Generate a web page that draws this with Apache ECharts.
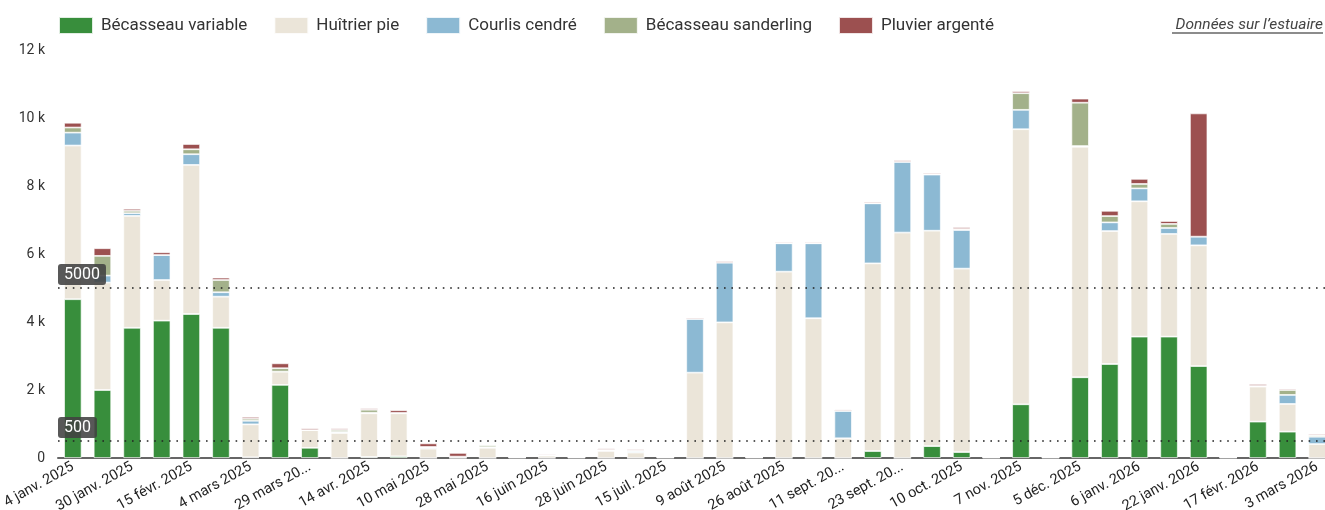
<!DOCTYPE html>
<html>
<head>
<meta charset="utf-8">
<script src="https://cdn.jsdelivr.net/npm/echarts@6/dist/echarts.min.js"></script>
<style>
html,body{margin:0;padding:0;background:#fff;}
#chart{width:1325px;height:510px;}
</style>
</head>
<body>
<div id="chart"></div>
<script>
// Categories (survey dates)
var categories = [
  '4 janv. 2025','17 janv. 2025','30 janv. 2025','6 févr. 2025','15 févr. 2025','22 févr. 2025',
  '4 mars 2025','18 mars 2025','29 mars 2025','5 avr. 2025','14 avr. 2025','26 avr. 2025',
  '10 mai 2025','18 mai 2025','28 mai 2025','5 juin 2025','16 juin 2025','21 juin 2025',
  '28 juin 2025','8 juil. 2025','15 juil. 2025','28 juil. 2025','9 août 2025','18 août 2025',
  '26 août 2025','3 sept. 2025','11 sept. 2025','17 sept. 2025','23 sept. 2025','1 oct. 2025',
  '10 oct. 2025','24 oct. 2025','7 nov. 2025','21 nov. 2025','5 déc. 2025','19 déc. 2025',
  '6 janv. 2026','14 janv. 2026','22 janv. 2026','3 févr. 2026','17 févr. 2026','24 févr. 2026',
  '3 mars 2026'
];
// Tick labels shown (every other category)
var tickLabels = [
  '4 janv. 2025','30 janv. 2025','15 févr. 2025','4 mars 2025','29 mars 20...','14 avr. 2025',
  '10 mai 2025','28 mai 2025','16 juin 2025','28 juin 2025','15 juil. 2025','9 août 2025',
  '26 août 2025','11 sept. 20...','23 sept. 20...','10 oct. 2025','7 nov. 2025','5 déc. 2025',
  '6 janv. 2026','22 janv. 2026','17 févr. 2026','3 mars 2026'
];
var seriesNames = ['Bécasseau variable','Huîtrier pie','Courlis cendré','Bécasseau sanderling','Pluvier argenté'];
var becasseauVariable = [4670,2000,3830,4040,4235,3830,20,2150,300,0,30,50,0,0,0,10,0,10,0,0,10,0,0,10,0,0,0,205,0,350,175,10,1580,10,2375,2765,3570,3570,2705,10,1070,775,0];
var huitrierPie = [4520,3160,3290,1195,4385,915,970,390,520,735,1285,1265,275,40,300,15,70,15,210,160,15,2510,3990,15,5480,4110,580,5520,6630,6335,5395,15,8090,15,6780,3910,3980,3020,3550,15,1030,815,410];
var courlisCendre = [380,205,80,735,315,130,105,0,0,30,15,10,30,0,20,0,0,0,10,40,0,1580,1755,0,835,2205,805,1765,2080,1650,1135,0,570,0,20,255,380,175,255,0,20,265,215];
var becasseauSanderling = [150,580,70,0,145,360,60,100,0,60,90,0,20,0,60,0,10,0,20,20,0,0,0,0,0,0,0,0,0,20,30,0,490,0,1275,185,130,120,0,0,0,145,40];
var pluvierArgente = [140,225,60,80,155,70,55,145,50,45,40,80,105,110,20,5,30,5,40,35,5,40,40,5,35,35,40,40,45,40,55,5,60,5,120,155,150,85,3625,5,55,40,40];
var thresholds = [5000, 500];
var yTicks = {min: 0, max: 12000, interval: 2000};

var colors = ['#388e3c','#ebe5d9','#8cb9d3','#a3b18a','#9c5050'];
var dataSets = [becasseauVariable, huitrierPie, courlisCendre, becasseauSanderling, pluvierArgente];

var chart = echarts.init(document.getElementById('chart'));
var series = seriesNames.map(function(name, i){
  var s = {
    name: name,
    type: 'bar',
    stack: 'total',
    data: dataSets[i],
    barWidth: '59%',
    itemStyle: {color: colors[i], borderColor: 'rgba(255,255,255,0.85)', borderWidth: 0.8},
    emphasis: {disabled: true}
  };
  if (i === seriesNames.length - 1) {
    s.markLine = {
      silent: true,
      symbol: ['none','none'],
      lineStyle: {color: '#222', width: 1.6, type: [1.6, 5.8]},
      label: {
        position: 'insideStartTop',
        color: '#fff',
        fontFamily: 'Roboto',
        fontSize: 16,
        backgroundColor: 'rgba(65,65,65,0.88)',
        padding: [3, 6, 2, 6],
        borderRadius: 3,
        distance: [0, 3]
      },
      data: thresholds.map(function(t){ return {yAxis: t, label: {formatter: String(t)}}; })
    };
  }
  return s;
});

chart.setOption({
  animation: false,
  textStyle: {fontFamily: 'Roboto'},
  legend: {
    left: 58,
    top: 16,
    padding: 0,
    icon: 'rect',
    itemWidth: 34,
    itemHeight: 17,
    itemGap: 26,
    selectedMode: false,
    textStyle: {fontSize: 17, color: '#333', fontFamily: 'Roboto', padding: [0,0,0,3]},
    data: seriesNames
  },
  graphic: [
    {type: 'text', right: 2, top: 17, style: {text: 'Données sur l\u2019estuaire', font: 'italic 15.5px Roboto', fill: '#444'}},
    {type: 'line', shape: {x1: 1172, y1: 33, x2: 1323, y2: 33}, style: {stroke: '#666', lineWidth: 1.5}}
  ],
  grid: {left: 58, top: 50, width: 1274, bottom: 52, containLabel: false, outerBoundsMode: 'none'},
  xAxis: {
    type: 'category',
    data: categories,
    axisLine: {show: true, lineStyle: {color: '#666', width: 2}},
    axisTick: {show: false},
    axisLabel: {
      interval: 0,
      rotate: 29,
      fontSize: 14.5,
      color: '#222',
      margin: 8,
      formatter: function(v, idx){ return idx % 2 === 0 ? tickLabels[idx / 2] : ''; }
    }
  },
  yAxis: {
    type: 'value',
    min: yTicks.min,
    max: yTicks.max,
    interval: yTicks.interval,
    splitLine: {show: false},
    axisLine: {show: false},
    axisTick: {show: false},
    axisLabel: {
      fontSize: 14,
      color: '#333',
      margin: 13,
      formatter: function(v){ return v === 0 ? '0' : (v / 1000) + ' k'; }
    }
  },
  series: series
});
</script>
</body>
</html>
